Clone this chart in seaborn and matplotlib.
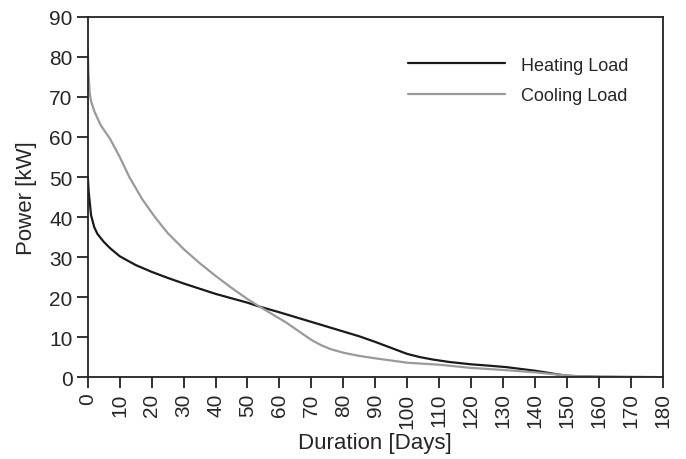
import numpy as np
import pandas as pd
import matplotlib
matplotlib.use("Agg")
import matplotlib.pyplot as plt
import seaborn as sns

# values (duration in days, load in kW)
heat_days = [0, 0.3, 0.7, 1, 1.5, 2, 3, 4, 5, 7, 10, 15, 20, 25, 30, 40, 50, 53, 60, 70,
             80, 85, 90, 95, 100, 104, 108, 113, 120, 125, 131, 135, 140, 144, 147, 150, 155, 160, 170, 180]
heat_kw = [50, 46, 43, 40.5, 39, 37.5, 35.8, 34.8, 33.8, 32.2, 30.2, 28, 26.3, 24.8, 23.4, 20.8, 18.6, 17.8, 16.2, 13.8,
           11.4, 10.2, 8.8, 7.3, 5.8, 5.0, 4.4, 3.8, 3.2, 2.9, 2.5, 2.1, 1.6, 1.1, 0.7, 0.35, 0.15, 0.08, 0.03, 0]

cool_days = [0, 0.2, 0.6, 1, 2, 4, 7, 10, 13, 17, 21, 25, 30, 35, 40, 45, 50, 53, 58, 62,
             66, 70, 73, 76, 80, 85, 90, 100, 110, 120, 128, 135, 140, 145, 150, 155, 160, 170, 180]
cool_kw = [82, 76, 71, 69, 66.5, 63, 59.5, 55, 50, 44.5, 40, 36, 32, 28.5, 25.3, 22.3, 19.5, 18, 15.6, 13.7,
           11.5, 9.3, 8, 7, 6.1, 5.3, 4.7, 3.6, 3.1, 2.3, 1.9, 1.5, 1.2, 0.8, 0.4, 0.2, 0.1, 0.03, 0]

df = pd.concat([
    pd.DataFrame({"day": heat_days, "kw": heat_kw, "load": "Heating Load"}),
    pd.DataFrame({"day": cool_days, "kw": cool_kw, "load": "Cooling Load"}),
])

sns.set_style("ticks")
plt.rcParams["font.family"] = ["Liberation Sans", "DejaVu Sans"]

fig, ax = plt.subplots(figsize=(6.86, 4.6), dpi=100)
fig.subplots_adjust(left=0.128, right=0.966, top=0.961, bottom=0.178)

sns.lineplot(data=df, x="day", y="kw", hue="load", sort=False,
             palette={"Heating Load": "#1a1a1a", "Cooling Load": "#9a9a9a"},
             linewidth=1.6, ax=ax)

ax.set_xlim(0, 180)
ax.set_ylim(0, 90)
ax.set_xticks(np.arange(0, 181, 10))
ax.set_yticks(np.arange(0, 91, 10))
ax.tick_params(axis="x", labelrotation=90)
ax.tick_params(labelsize=15, length=8, width=1.3, direction="out", color="#222222", pad=3)
for s in ax.spines.values():
    s.set_linewidth(1.3)
    s.set_color("#222222")

ax.set_xlabel("Duration [Days]", fontsize=16, labelpad=3)
ax.set_ylabel("Power [kW]", fontsize=16, labelpad=9)

ax.legend(title=None, frameon=False, fontsize=13, loc="upper left",
          bbox_to_anchor=(0.5565, 0.89), borderaxespad=0, borderpad=0,
          handlelength=5.4, handletextpad=0.85, labelspacing=0.75)

fig.savefig("out.png", dpi=100)
